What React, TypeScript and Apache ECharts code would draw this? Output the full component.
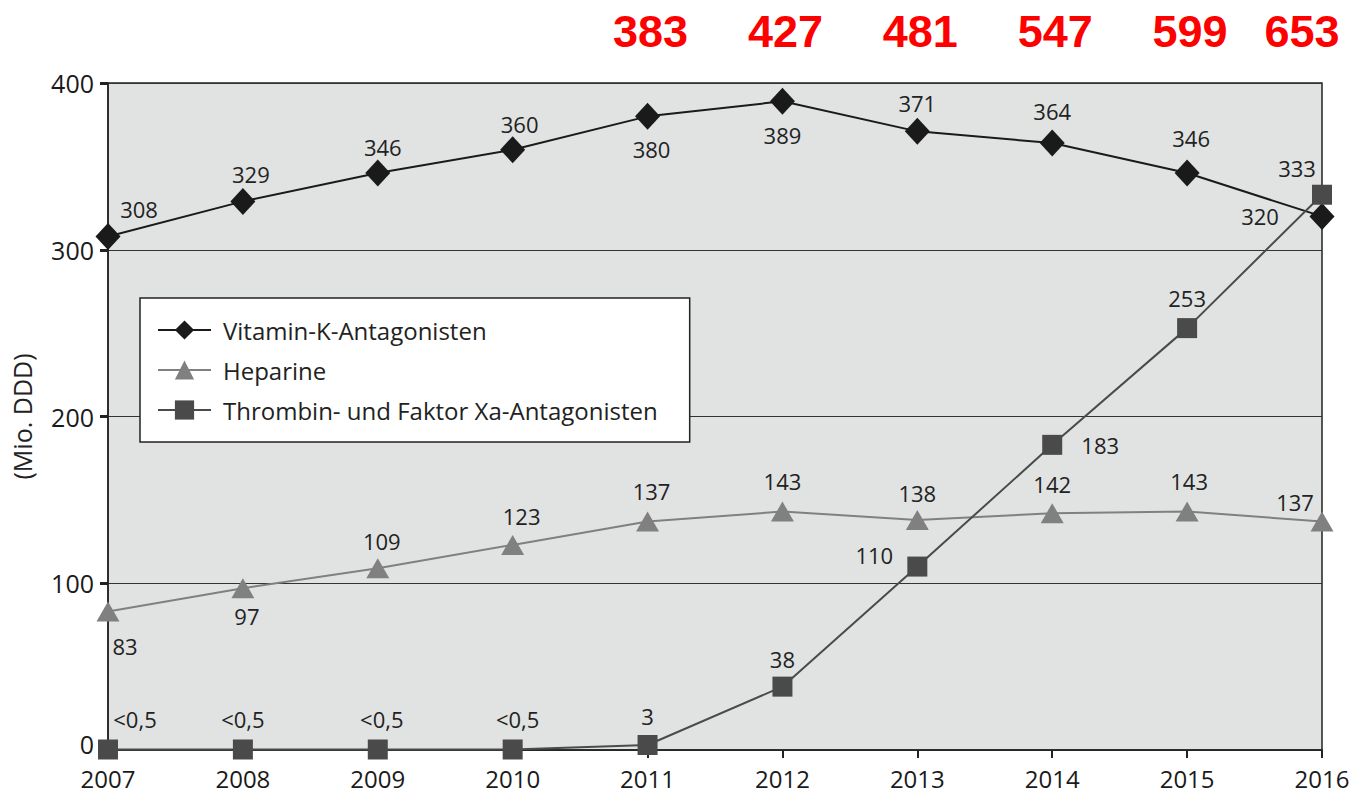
import React, { useEffect, useRef } from "react";
import * as echarts from "echarts";

const years = ["2007", "2008", "2009", "2010", "2011", "2012", "2013", "2014", "2015", "2016"];
const vitaminK = [308, 329, 346, 360, 380, 389, 371, 364, 346, 320];
const heparine = [83, 97, 109, 123, 137, 143, 138, 142, 143, 137];
const thrombin = [0.3, 0.3, 0.3, 0.3, 3, 38, 110, 183, 253, 333];
const thrombinLabels = ["<0,5", "<0,5", "<0,5", "<0,5", "3", "38", "110", "183", "253", "333"];
const totalYears = ["2011", "2012", "2013", "2014", "2015", "2016"];
const totals = [383, 427, 481, 547, 599, 653];
const yTicks = [0, 100, 200, 300, 400];

// label offsets (style only)
const vkOff = [[31, -27], [8, -27], [5, -26], [7, -26], [4, 33], [0, 34], [0, -28], [0, -32], [4, -35], [-62, 0]];
const hepOff = [[17, 34], [4, 28], [4, -27], [9, -29], [4, -31], [0, -31], [0, -27], [0, -29], [2, -31], [-27, -20]];
const thrOff = [[27, -30], [0, -30], [4, -30], [5, -30], [0, -29], [0, -28], [-43, -12], [48, 0], [0, -30], [-25, -27]];

const FONT = "'Open Sans', 'Noto Sans', sans-serif";

export default function App() {
  const ref = useRef<HTMLDivElement>(null);
  useEffect(() => {
    document.body.style.margin = "0";
    if (!ref.current) return;
    const chart = echarts.init(ref.current, undefined, { renderer: "svg" });
    const lbl = { show: true, position: "inside", color: "#222", fontSize: 22, fontFamily: FONT };
    chart.setOption({
      animation: false,
      backgroundColor: "#fff",
      grid: {
        left: 108, right: 41, top: 83, bottom: 45,
        show: true, backgroundColor: "#e1e2e2", borderColor: "#222", borderWidth: 1.5,
      },
      legend: {
        orient: "vertical",
        left: 140, top: 298,
        padding: [20, 32, 20, 17],
        itemWidth: 53, itemHeight: 24, itemGap: 16,
        backgroundColor: "#fff", borderColor: "#222", borderWidth: 1.5,
        textStyle: { fontSize: 24, fontFamily: FONT, color: "#222", padding: [0, 0, 0, 7] },
        data: ["Vitamin-K-Antagonisten", "Heparine", "Thrombin- und Faktor Xa-Antagonisten"],
      },
      xAxis: {
        type: "category", data: years, boundaryGap: false,
        axisLine: { lineStyle: { color: "#222", width: 1.5 } },
        axisTick: { show: true, length: 8, lineStyle: { color: "#222", width: 2 } },
        axisLabel: { color: "#1a1a1a", fontSize: 24, lineHeight: 24, fontFamily: FONT, margin: 16 },
        splitLine: { show: false },
      },
      yAxis: {
        type: "value", min: yTicks[0], max: yTicks[yTicks.length - 1], interval: 100,
        name: "(Mio. DDD)", nameLocation: "middle", nameGap: 74, nameRotate: 90,
        nameTextStyle: { fontSize: 25, fontFamily: FONT, color: "#222" },
        axisLine: { show: true, lineStyle: { color: "#222", width: 1.5 } },
        axisTick: { show: true, length: 8, lineStyle: { color: "#222", width: 3 } },
        axisLabel: {
          color: "#1a1a1a", fontSize: 25, lineHeight: 22, fontFamily: FONT, margin: 14,
          formatter: (v: number) => (v === 0 ? "{z|0}" : String(v)),
          rich: { z: { fontSize: 25, fontFamily: FONT, color: "#1a1a1a", lineHeight: 22, padding: [0, 0, 12, 0] } },
        },
        splitLine: { show: true, lineStyle: { color: "#333", width: 1 } },
      },
      series: [
        {
          name: "Vitamin-K-Antagonisten", type: "line",
          symbol: "diamond", symbolSize: [25, 27],
          itemStyle: { color: "#1a1a1a" }, lineStyle: { color: "#1a1a1a", width: 2 },
          data: vitaminK.map((v, i) => ({ value: v, label: { ...lbl, offset: vkOff[i] } })),
          z: 3,
        },
        {
          name: "Heparine", type: "line",
          symbol: "triangle", symbolSize: [23, 20],
          itemStyle: { color: "#808080" }, lineStyle: { color: "#808080", width: 2 },
          data: heparine.map((v, i) => ({ value: v, label: { ...lbl, offset: hepOff[i] } })),
          z: 2,
        },
        {
          name: "Thrombin- und Faktor Xa-Antagonisten", type: "line",
          symbol: "rect", symbolSize: [20, 20],
          itemStyle: { color: "#4a4a4a" }, lineStyle: { color: "#4a4a4a", width: 2 },
          data: thrombin.map((v, i) => ({
            value: v,
            label: { ...lbl, offset: thrOff[i], formatter: thrombinLabels[i] },
          })),
          z: 4,
        },
      ],
    });
    const graphics = totalYears.map((y, i) => {
      const px = chart.convertToPixel({ xAxisIndex: 0 }, y) as number;
      return {
        type: "text",
        x: Math.min(px + 3, 1302),
        y: 31,
        style: {
          text: String(totals[i]),
          fill: "#ff0000",
          font: "bold 45px 'Liberation Sans', Arial, sans-serif",
          align: "center",
          verticalAlign: "middle",
        },
      };
    });
    chart.setOption({ graphic: graphics });
    return () => chart.dispose();
  }, []);
  return <div ref={ref} style={{ width: 1363, height: 795 }} />;
}
